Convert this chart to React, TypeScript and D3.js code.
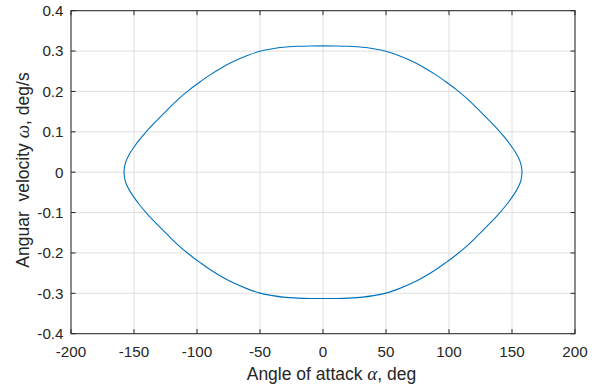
import React from "react";
import * as d3 from "d3";

const xTicks = [-200, -150, -100, -50, 0, 50, 100, 150, 200];
const yTicks = [-0.4, -0.3, -0.2, -0.1, 0, 0.1, 0.2, 0.3, 0.4];
const xTickLabels = ["-200", "-150", "-100", "-50", "0", "50", "100", "150", "200"];
const yTickLabels = ["-0.4", "-0.3", "-0.2", "-0.1", "0", "0.1", "0.2", "0.3", "0.4"];

// closed trajectory: upper half left->right, then lower half right->left
const alpha = [
  -157.9, -157.69, -157.06, -156.0, -153.6, -150.5, -145.8, -139, -132, -124, -115, -105.6, -97, -89.7, -80, -71.2, -60, -50, -40, -31.5, -20, -10, 0,
  10, 20, 31.5, 40, 50, 60, 71.2, 80, 89.7, 97, 105.6, 115, 124, 132, 139, 145.8, 150.5, 153.6, 156.0, 157.06, 157.69,
  157.9, 157.69, 157.06, 156.0, 153.6, 150.5, 145.8, 139, 132, 124, 115, 105.6, 97, 89.7, 80, 71.2, 60, 50, 40, 31.5, 20, 10, 0,
  -10, -20, -31.5, -40, -50, -60, -71.2, -80, -89.7, -97, -105.6, -115, -124, -132, -139, -145.8, -150.5, -153.6, -156.0, -157.06, -157.69,
];
const omega = [
  0, 0.01, 0.02, 0.03, 0.045, 0.06, 0.08, 0.105, 0.128, 0.153, 0.1805, 0.205, 0.225, 0.241, 0.2595, 0.274, 0.289, 0.2995, 0.3058, 0.3095, 0.3118, 0.3127, 0.313,
  0.3127, 0.3118, 0.3095, 0.3058, 0.2995, 0.289, 0.274, 0.2595, 0.241, 0.225, 0.205, 0.1805, 0.153, 0.128, 0.105, 0.08, 0.06, 0.045, 0.03, 0.02, 0.01,
  0, -0.01, -0.02, -0.03, -0.045, -0.06, -0.08, -0.105, -0.128, -0.153, -0.1805, -0.205, -0.225, -0.241, -0.2595, -0.274, -0.289, -0.2995, -0.3058, -0.3095, -0.3118, -0.3127, -0.313,
  -0.3127, -0.3118, -0.3095, -0.3058, -0.2995, -0.289, -0.274, -0.2595, -0.241, -0.225, -0.205, -0.1805, -0.153, -0.128, -0.105, -0.08, -0.06, -0.045, -0.03, -0.02, -0.01,
];

const W = 601;
const H = 386;
const L = 71, R = 575, T = 10.7, B = 333.7;
const axisColor = "#262626";
const gridColor = "#dfdfdf";
const font = "'Liberation Sans', Arial, sans-serif";
const mathFont = "'Liberation Serif', 'Times New Roman', serif";

export default function App() {
  const x = d3.scaleLinear().domain([-200, 200]).range([L, R]);
  const y = d3.scaleLinear().domain([-0.4, 0.4]).range([B, T]);
  const pts: [number, number][] = alpha.map((a, i) => [a, omega[i]]);
  const line = d3
    .line<[number, number]>()
    .x((d) => x(d[0]))
    .y((d) => y(d[1]))
    .curve(d3.curveCatmullRomClosed.alpha(0.5));
  const tl = 4.5;
  return (
    <svg width={W} height={H} style={{ position: "absolute", left: 0, top: 0, background: "#fff" }}>
      <rect x={0} y={0} width={W} height={H} fill="#fff" />
      {xTicks.map((t) => (
        <line key={"gx" + t} x1={x(t)} x2={x(t)} y1={T} y2={B} stroke={gridColor} strokeWidth={1} />
      ))}
      {yTicks.map((t) => (
        <line key={"gy" + t} x1={L} x2={R} y1={y(t)} y2={y(t)} stroke={gridColor} strokeWidth={1} />
      ))}
      <path d={line(pts) || ""} fill="none" stroke="#0072BD" strokeWidth={1.1} />
      <rect x={L} y={T} width={R - L} height={B - T} fill="none" stroke={axisColor} strokeWidth={1} />
      {xTicks.map((t) => (
        <g key={"tx" + t}>
          <line x1={x(t)} x2={x(t)} y1={B} y2={B - tl} stroke={axisColor} />
          <line x1={x(t)} x2={x(t)} y1={T} y2={T + tl} stroke={axisColor} />
        </g>
      ))}
      {yTicks.map((t) => (
        <g key={"ty" + t}>
          <line x1={L} x2={L + tl} y1={y(t)} y2={y(t)} stroke={axisColor} />
          <line x1={R} x2={R - tl} y1={y(t)} y2={y(t)} stroke={axisColor} />
        </g>
      ))}
      {xTicks.map((t, i) => (
        <text key={"lx" + t} x={x(t)} y={357} textAnchor="middle" fontFamily={font} fontSize={15.2} fill={axisColor}>
          {xTickLabels[i]}
        </text>
      ))}
      {yTicks.map((t, i) => (
        <text key={"ly" + t} x={63.5} y={y(t) + 5.3} textAnchor="end" fontFamily={font} fontSize={15.2} fill={axisColor}>
          {yTickLabels[i]}
        </text>
      ))}
      <text x={331.5} y={380} textAnchor="middle" fontFamily={font} fontSize={17.5} fill={axisColor} style={{ whiteSpace: "pre" }}>
        {"Angle of attack "}
        <tspan fontFamily={mathFont} fontStyle="italic" fontSize={19}>α</tspan>{", deg"}
      </text>
      <text
        transform={`translate(29,170) rotate(-90)`}
        textAnchor="middle"
        fontFamily={font}
        fontSize={17.5}
        fill={axisColor}
        style={{ whiteSpace: "pre" }}
      >
        {"Anguar  velocity "}
        <tspan fontFamily={mathFont} fontStyle="italic" fontSize={19}>ω</tspan>{", deg/s"}
      </text>
    </svg>
  );
}
